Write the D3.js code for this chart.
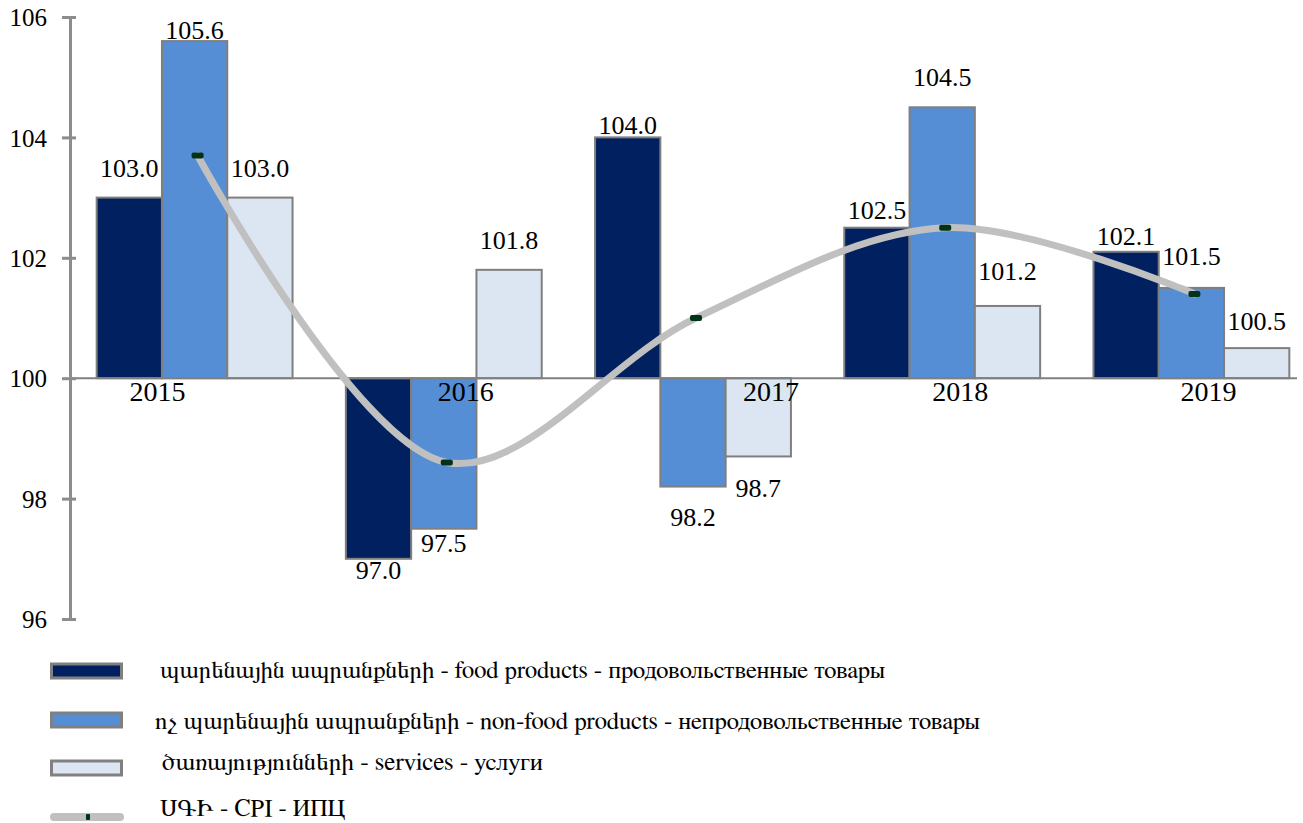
<!DOCTYPE html>
<html><head><meta charset="utf-8">
<script src="https://cdn.jsdelivr.net/npm/d3@7"></script>
<style>
html,body{margin:0;padding:0;background:#fff;}
</style></head><body>
<svg id="c" width="1303" height="823"></svg>
<script>
// ---- data ----
const years = ["2015","2016","2017","2018","2019"];
const food = [103.0, 97.0, 104.0, 102.5, 102.1];
const nonFood = [105.6, 97.5, 98.2, 104.5, 101.5];
const services = [103.0, 101.8, 98.7, 101.2, 100.5];
const cpi = [103.7, 98.6, 101.0, 102.5, 101.4];
const yTicks = [96, 98, 100, 102, 104, 106];
const seriesNames = [
  "պարենային ապրանքների - food products - продовольственные товары",
  "ոչ պարենային ապրանքների - non-food products - непродовольственные товары",
  "ծառայությունների - services - услуги",
  "ՍԳԻ - CPI - ИПЦ"
];

// ---- layout (not data) ----
const NUMFONT = "Liberation Serif";
const LEGFONT = "FreeSerif";
const colors = ["#002060", "#558ED5", "#DCE6F2"];
const labelGap = [[21,20,3,9,7],[2,23,39,21,23],[21,21,41,26,18]];
const catLabelDx = [-37, 22, 78, 18, 17];

const svg = d3.select("#c");
const x = d3.scaleBand().domain(years).range([70, 1316]).paddingInner(0.214).paddingOuter(0.107);
const keys = ["food","nonFood","services"];
const xs = d3.scaleBand().domain(keys).range([0, x.bandwidth()]);
const y = d3.scaleLinear().domain([96, 106]).range([619, 17]);

const seriesData = [food, nonFood, services];

// bars
seriesData.forEach((vals, si) => {
  svg.append("g").selectAll("rect").data(vals).join("rect")
    .attr("x", (d,i) => x(years[i]) + xs(keys[si]))
    .attr("y", d => Math.min(y(d), y(100)))
    .attr("width", xs.bandwidth())
    .attr("height", d => Math.abs(y(d) - y(100)))
    .attr("fill", colors[si])
    .attr("stroke", "#7f7f7f").attr("stroke-width", 2);
});

// x axis line
svg.append("line").attr("x1", 70).attr("x2", 1297).attr("y1", y(100)).attr("y2", y(100))
  .attr("stroke", "#808080").attr("stroke-width", 2);

// y axis
const yAxis = d3.axisLeft(y).tickValues(yTicks).tickSize(0).tickFormat(d3.format("d"));
const ya = svg.append("g").attr("transform", "translate(70,0)").call(yAxis);
ya.attr("font-family", NUMFONT);
ya.select(".domain").attr("stroke", "#8c8c8c").attr("stroke-width", 3);
ya.selectAll(".tick text").attr("x", -23).attr("dy", "0.35em")
  .attr("font-family", NUMFONT).attr("font-size", 25).attr("fill", "#000");
ya.selectAll(".tick").append("line").attr("x1", -8).attr("x2", 6)
  .attr("stroke", "#8c8c8c").attr("stroke-width", 3);

// category labels
svg.append("g").selectAll("text").data(years).join("text")
  .attr("x", (d,i) => x(d) + x.bandwidth()/2 + catLabelDx[i])
  .attr("y", y(100) + 23)
  .attr("text-anchor", "middle").attr("font-family", NUMFONT).attr("font-size", 28).attr("fill", "#000")
  .text(d => d);

// value labels
seriesData.forEach((vals, si) => {
  svg.append("g").selectAll("text").data(vals).join("text")
    .attr("x", (d,i) => x(years[i]) + xs(keys[si]) + xs.bandwidth()/2)
    .attr("y", (d,i) => d >= 100 ? y(d) - labelGap[si][i] : y(d) + labelGap[si][i])
    .attr("text-anchor", "middle").attr("font-family", NUMFONT).attr("font-size", 26).attr("fill", "#000")
    .text(d => d.toFixed(1));
});

// CPI line
const cx = (d,i) => x(years[i]) + x.bandwidth()/2 + 3;
const line = d3.line().x(cx).y(d => y(d)).curve(d3.curveCatmullRom.alpha(0.5));
svg.append("path").datum(cpi).attr("d", line).attr("fill", "none")
  .attr("stroke", "#c0c0c0").attr("stroke-width", 7).attr("stroke-linecap", "round");
svg.append("g").selectAll("rect").data(cpi).join("rect")
  .attr("x", (d,i) => cx(d,i) - 6).attr("y", d => y(d) - 3)
  .attr("width", 12).attr("height", 6).attr("rx", 2)
  .attr("fill", "#003318");

// legend
const legY = [671, 720, 768, 817];
const legTextY = [678, 729, 770, 816];
const legX = [160, 155, 162, 160];
const legW = [725, 825, 381, 185];
const lg = svg.append("g");
[0,1,2].forEach(i => {
  lg.append("rect").attr("x", 51.5).attr("y", legY[i] - 7).attr("width", 70).attr("height", 14)
    .attr("fill", colors[i]).attr("stroke", "#808080").attr("stroke-width", 3);
});
lg.append("line").attr("x1", 54).attr("x2", 120).attr("y1", legY[3]).attr("y2", legY[3])
  .attr("stroke", "#c0c0c0").attr("stroke-width", 8).attr("stroke-linecap", "round");
lg.append("rect").attr("x", 86).attr("y", legY[3] - 3).attr("width", 4).attr("height", 6).attr("rx", 1).attr("fill", "#003318");
seriesNames.forEach((t, i) => {
  lg.append("text").attr("x", legX[i]).attr("y", legTextY[i])
    .attr("font-family", LEGFONT).attr("font-size", 24).attr("fill", "#000")
    .attr("textLength", legW[i]).attr("lengthAdjust", "spacingAndGlyphs")
    .text(t);
});
</script>
</body></html>
